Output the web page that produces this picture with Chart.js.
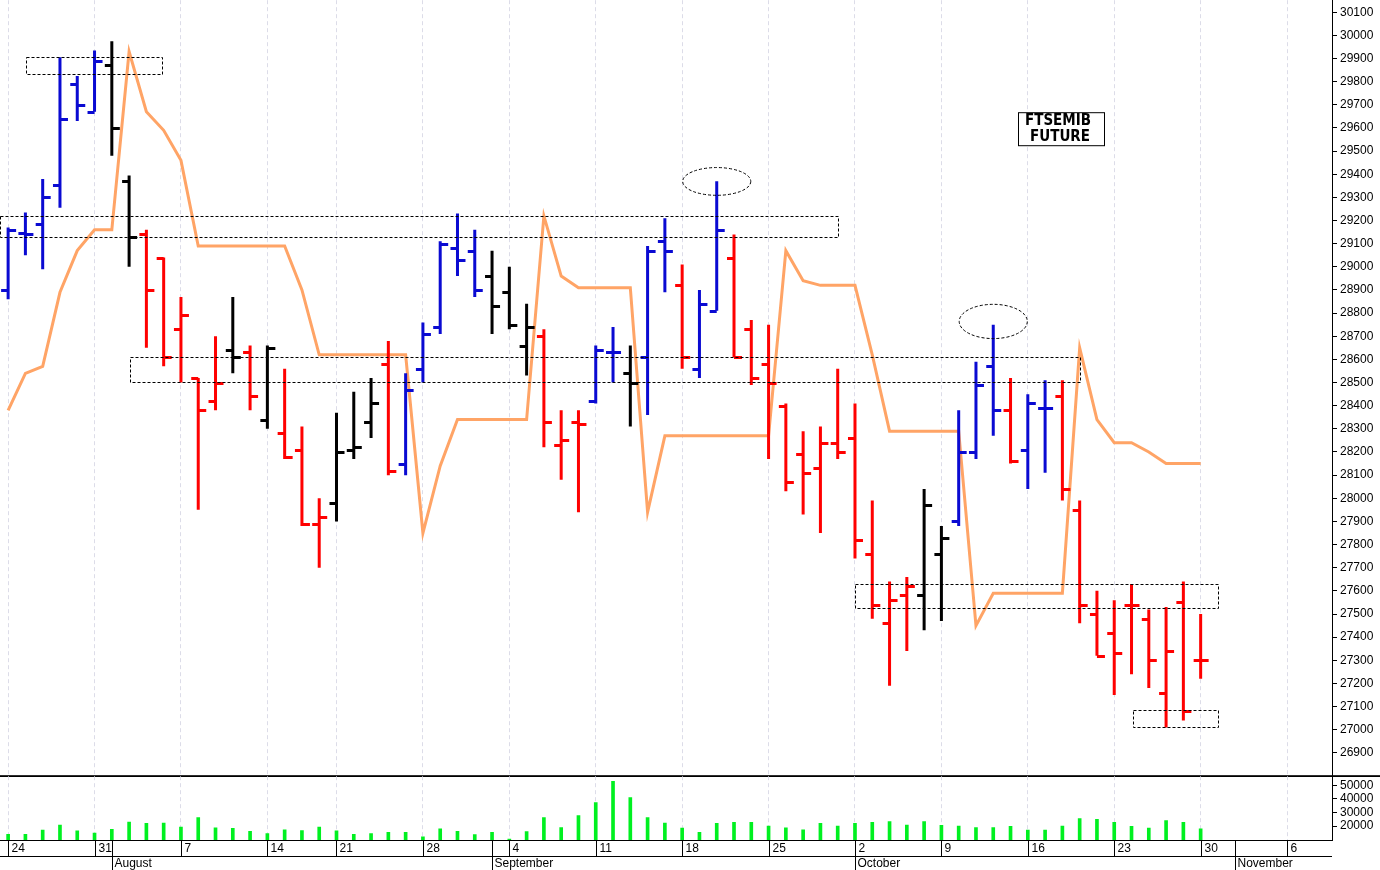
<!DOCTYPE html>
<html><head><meta charset="utf-8">
<script src="https://cdn.jsdelivr.net/npm/chart.js@4"></script>
<style>
html,body{margin:0;padding:0;background:#fff;overflow:hidden}
#c1{position:absolute;left:0;top:-10px}
#c2{position:absolute;left:0;top:766px}
</style></head><body>
<canvas id="c1" width="1380" height="796"></canvas>
<canvas id="c2" width="1380" height="104"></canvas>
<script>
const opens  = [28900,29145,29185,29355,29790,29670,29870,29370,29140,29040,28730,28520,28420,28640,28630,28340,28280,28210,27890,27980,28210,28330,28580,28150,28560,28740,29080,29070,28960,28890,28660,28700,28230,28330,28420,28630,28540,28610,29110,28920,28560,28810,29040,28730,28580,28400,28190,28130,28240,28260,27760,27460,27580,27580,27760,27900,28200,28570,28380,28210,28390,28440,27950,27500,27420,27540,27480,27160,27550,27300];
const highs  = [29170,29235,29380,29905,29825,29935,29975,29395,29160,29040,28870,28520,28700,28870,28660,28660,28560,28310,28000,28370,28460,28520,28680,28540,28760,29110,29230,29160,29070,29000,28840,28730,28380,28380,28660,28740,28660,29090,29210,29010,28900,29370,29140,28770,28750,28410,28290,28310,28560,28410,27990,27640,27660,28040,27880,28380,28590,28750,28520,28450,28510,28510,27990,27600,27560,27630,27520,27530,27640,27500];
const lows   = [28860,29050,28990,29255,29630,29670,29480,29000,28650,28570,28500,27950,28380,28540,28380,28300,28170,27880,27700,27900,28170,28260,28100,28100,28500,28710,28960,28870,28710,28730,28530,28220,28080,27940,28410,28500,28310,28360,28890,28560,28520,28810,28610,28490,28170,28030,27930,27850,28170,27740,27480,27190,27340,27430,27470,27880,28170,28270,28150,28040,28110,27990,27460,27320,27150,27240,27180,27010,27040,27220];
const closes = [29160,29140,29300,29640,29700,29890,29600,29130,28900,28610,28790,28380,28500,28610,28440,28650,28180,27890,27920,28200,28220,28410,28120,28470,28710,29100,29030,28900,28830,28750,28740,28330,28250,28320,28640,28630,28500,29070,29070,28610,28840,29160,28610,28520,28500,28070,28110,28240,28200,27820,27540,27560,27620,27970,27830,28200,28490,28380,28160,28410,28390,28040,27540,27320,27330,27540,27300,27340,27080,27300];
const barColors = "bbbbbbkkrrrrrkrkrrrkkkrbbbbbkkkrrrbbkbbrbbrrrrrrrrrrrkkbbbrbbrrrrrrrrr";
const orangeLine = [28380,28540,28570,28890,29070,29160,29160,29930,29670,29590,29460,29090,29090,29090,29090,29090,29090,28900,28620,28620,28620,28620,28620,28620,27850,28140,28340,28340,28340,28340,28340,29220,28960,28910,28910,28910,28910,27940,28270,28270,28270,28270,28270,28270,28270,29070,28940,28920,28920,28920,28620,28290,28290,28290,28290,28290,27450,27590,27590,27590,27590,27590,28650,28340,28240,28240,28200,28150,28150,28150];
const volumes = [13900,13900,17100,20700,16600,14900,17600,22900,22000,22200,19300,26300,18800,18300,16100,14600,17300,16800,19300,16600,13900,14600,15400,15400,12200,18000,16100,13700,15400,10500,15900,26300,19000,27800,37300,52900,41000,26300,22200,18500,15400,22000,22700,22700,20000,18800,17300,22000,20000,22000,22700,23400,20700,23400,20500,20000,19000,19000,19800,17100,17100,20000,25600,24900,22700,19800,18500,24100,22700,18000];
const priceTicks = [26900,27000,27100,27200,27300,27400,27500,27600,27700,27800,27900,28000,28100,28200,28300,28400,28500,28600,28700,28800,28900,29000,29100,29200,29300,29400,29500,29600,29700,29800,29900,30000,30100];
const volumeTicks = [20000,30000,40000,50000];
const weekStartIdx = [0,5,10,15,19,24,29,34,39,44,49,54,59,64,69,74];
const weekLabels = ["24","31","7","14","21","28","4","11","18","25","2","9","16","23","30","6"];
const monthIdx = [6,28,49,71];
const monthLabels = ["August","September","October","November"];
const title = ["FTSEMIB","FUTURE"];
const boxes = [[1.04,8.9,29905,29830],[-0.47,48.0,29218,29127],[7.06,62.0,28612,28504],[49.0,70.0,27630,27527],[65.1,70.0,27086,27012]];
const ellipses = [[41.0,29369,1.97,60],[57.0,28764,1.97,74]];

const XMIN=-0.47, XMAX=76.6;
const colorMap={b:'#0a0ad2',r:'#ff0000',k:'#000000'};
const cols=[...barColors].map(c=>colorMap[c]);
const FONT="'Liberation Sans', Arial, sans-serif";

const ohlcPlugin={id:'ohlc',
 afterDatasetsDraw(ch){
  const ctx=ch.ctx,x=ch.scales.x,y=ch.scales.y,ca=ch.chartArea;
  ctx.save();
  ctx.lineWidth=3;
  for(let i=0;i<opens.length;i++){
    const px=x.getPixelForValue(i);
    ctx.strokeStyle=cols[i];
    ctx.beginPath();
    ctx.moveTo(px,y.getPixelForValue(highs[i]));ctx.lineTo(px,y.getPixelForValue(lows[i]));
    const po=Math.round(y.getPixelForValue(opens[i]))+0.5, pc=Math.round(y.getPixelForValue(closes[i]))+0.5;
    ctx.moveTo(px-7,po);ctx.lineTo(px,po);
    ctx.moveTo(px,pc);ctx.lineTo(px+8,pc);
    ctx.stroke();
  }
  ctx.lineWidth=1;ctx.strokeStyle='#000';ctx.setLineDash([3,2]);
  for(const b of boxes){
    const x1=x.getPixelForValue(b[0]),x2=x.getPixelForValue(b[1]),y1=y.getPixelForValue(b[2]),y2=y.getPixelForValue(b[3]);
    ctx.strokeRect(Math.round(x1)+0.5,Math.round(y1)+0.5,Math.round(x2-x1),Math.round(y2-y1));
  }
  for(const e of ellipses){
    const cx=x.getPixelForValue(e[0]),cy=y.getPixelForValue(e[1]);
    const rx=x.getPixelForValue(e[0]+e[2])-cx, ry=cy-y.getPixelForValue(e[1]+e[3]);
    ctx.beginPath();ctx.ellipse(cx,cy,rx,ry,0,0,Math.PI*2);ctx.stroke();
  }
  ctx.setLineDash([]);
  const ty=ca.top+112;
  ctx.fillStyle='#fff';ctx.fillRect(1018,ty,86,33);
  ctx.strokeRect(1018.5,ty+0.5,86,33);
  ctx.fillStyle='#000';ctx.font="bold 15px 'DejaVu Sans Condensed', "+FONT;ctx.textAlign='center';ctx.textBaseline='middle';
  ctx.fillText(title[0],1058,ty+9);ctx.fillText(title[1],1060,ty+25);
  const by=Math.round(ca.bottom)+0.5;
  ctx.beginPath();ctx.moveTo(0,by);ctx.lineTo(1380,by);ctx.stroke();
  ctx.restore();
 }};

function fixY(s){s.width=48;}
function fixX(s){s.height=0;}
function makeX(){return {type:'linear',min:XMIN,max:XMAX,offset:false,
  afterBuildTicks(s){s.ticks=weekStartIdx.map(v=>({value:v}));},
  afterFit:fixX,
  ticks:{display:false},
  grid:{color:'#dcdce8',drawTicks:false,offset:false},
  border:{display:false,dash:[4,3]}};}

new Chart(document.getElementById('c1'),{
 type:'line',
 data:{datasets:[{data:orangeLine.map((v,i)=>({x:i,y:v})),borderColor:'#ffa466',borderWidth:3,pointRadius:0,tension:0}]},
 options:{responsive:false,animation:false,devicePixelRatio:1,
  layout:{padding:0},
  plugins:{legend:{display:false},tooltip:{enabled:false}},
  scales:{x:makeX(),
   y:{position:'right',min:26801,max:30152,afterFit:fixY,
    afterBuildTicks(s){s.ticks=priceTicks.map(v=>({value:v}));},
    ticks:{color:'#000',font:{family:FONT,size:12},padding:3,callback:v=>String(v)},
    grid:{drawOnChartArea:false,color:'#000',tickLength:5},
    border:{color:'#000'}}}},
 plugins:[ohlcPlugin]});

const axisPlugin={id:'xlabels',
 afterDraw(ch){
  const ctx=ch.ctx,x=ch.scales.x,b=Math.round(ch.chartArea.bottom);
  ctx.save();ctx.strokeStyle='#000';ctx.lineWidth=1;
  ctx.beginPath();ctx.moveTo(0,b+0.5);ctx.lineTo(1332,b+0.5);ctx.moveTo(0,b+16.5);ctx.lineTo(1332,b+16.5);
  ctx.moveTo(0,ch.chartArea.top-0.5);ctx.lineTo(1380,ch.chartArea.top-0.5);ctx.stroke();
  ctx.fillStyle='#000';ctx.font="12px "+FONT;ctx.textBaseline='middle';ctx.textAlign='left';
  weekStartIdx.forEach((v,i)=>{const px=Math.round(x.getPixelForValue(v))+0.5;
    ctx.beginPath();ctx.moveTo(px,b);ctx.lineTo(px,b+16);ctx.stroke();
    ctx.fillText(weekLabels[i],px+3,b+9);});
  monthIdx.forEach((v,i)=>{const px=Math.round(x.getPixelForValue(v))+0.5;
    ctx.beginPath();ctx.moveTo(px,b);ctx.lineTo(px,b+40);ctx.stroke();
    ctx.fillText(monthLabels[i],px+2,b+24);});
  ctx.restore();
 }};

new Chart(document.getElementById('c2'),{
 type:'bar',
 data:{datasets:[{data:volumes.map((v,i)=>({x:i,y:v})),backgroundColor:'#00f020',barThickness:3}]},
 options:{responsive:false,animation:false,devicePixelRatio:1,
  layout:{padding:{bottom:30}},
  plugins:{legend:{display:false},tooltip:{enabled:false}},
  scales:{x:makeX(),
   y:{position:'right',min:9800,max:56600,afterFit:fixY,
    afterBuildTicks(s){s.ticks=volumeTicks.map(v=>({value:v}));},
    ticks:{color:'#000',font:{family:FONT,size:12},padding:3,callback:v=>String(v)},
    grid:{drawOnChartArea:false,color:'#000',tickLength:5},
    border:{color:'#000'}}}},
 plugins:[axisPlugin]});
</script></body></html>
